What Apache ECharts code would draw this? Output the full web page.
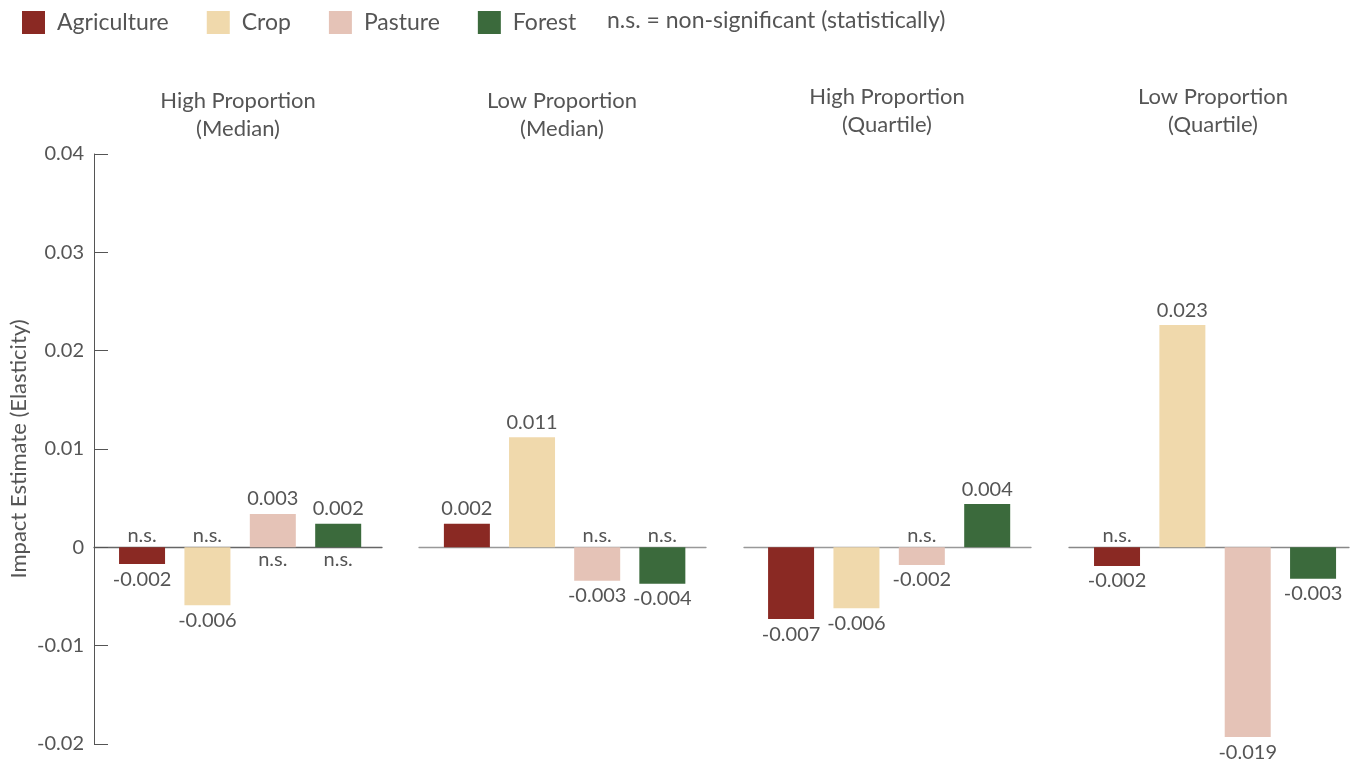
<!DOCTYPE html>
<html>
<head>
<meta charset="utf-8">
<script src="https://cdn.jsdelivr.net/npm/echarts@6/dist/echarts.min.js"></script>
<style>
html,body{margin:0;padding:0;background:#fff;}
#chart{width:1352px;height:764px;}
</style>
</head>
<body>
<div id="chart"></div>
<script>
// ---- data ----
const categories = ['Agriculture', 'Crop', 'Pasture', 'Forest'];
const panelTitles = ['High Proportion\n(Median)', 'Low Proportion\n(Median)', 'High Proportion\n(Quartile)', 'Low Proportion\n(Quartile)'];
const agriculture = [-0.0017, 0.0024, -0.0073, -0.0019];
const crop        = [-0.0059, 0.0112, -0.0062, 0.0226];
const pasture     = [0.0034, -0.0034, -0.0018, -0.0193];
const forest      = [0.0024, -0.0037, 0.0044, -0.0032];
const agricultureSig = [false, true, true, false];
const cropSig        = [false, true, true, true];
const pastureSig     = [false, false, false, true];
const forestSig      = [false, false, true, true];
const yTicks = [-0.02, -0.01, 0, 0.01, 0.02, 0.03, 0.04];
const nsNote = 'n.s. = non-significant (statistically)';

// ---- styling / layout ----
const FONT = 'Lato';
const TXT = '#555';
const colors = ['#8a2923', '#f0d9ac', '#e5c3b7', '#3b6a3c'];
const valuesByCat = [agriculture, crop, pasture, forest];
const sigByCat = [agricultureSig, cropSig, pastureSig, forestSig];
const panels = [
  { left: 94,   width: 288, min: -0.735, max: 3.67, titleX: 238,  titleTop: 87, line: '#666' },
  { left: 419,  width: 287, min: -0.735, max: 3.67, titleX: 562,  titleTop: 87, line: '#999' },
  { left: 744,  width: 287, min: -0.72,  max: 3.67, titleX: 887,  titleTop: 83, line: '#999' },
  { left: 1069, width: 280, min: -0.735, max: 3.55, titleX: 1213, titleTop: 83, line: '#888' }
];

const grid = [], xAxis = [], yAxis = [], series = [], title = [];
panels.forEach((p, g) => {
  grid.push({ left: p.left, width: p.width, top: 154, bottom: 20, containLabel: false });
  title.push({
    text: panelTitles[g], left: p.titleX, top: p.titleTop, textAlign: 'center', padding: 0,
    textStyle: { fontFamily: FONT, fontSize: 22, fontWeight: 'normal', color: TXT, lineHeight: 28, align: 'center' }
  });
  xAxis.push({
    type: 'value', gridIndex: g, min: p.min, max: p.max,
    axisLine: { show: true, onZero: true, lineStyle: { color: p.line, width: 1.3 } },
    axisTick: { show: false }, axisLabel: { show: false }, splitLine: { show: false }
  });
  yAxis.push({
    type: 'value', gridIndex: g, min: yTicks[0], max: yTicks[yTicks.length - 1], interval: 0.01,
    show: g === 0,
    name: g === 0 ? 'Impact Estimate (Elasticity)' : '',
    nameLocation: 'middle', nameGap: 64,
    nameTextStyle: { fontFamily: FONT, fontSize: 22, color: TXT },
    axisLine: { show: true, onZero: false, lineStyle: { color: '#555', width: 1 } },
    axisTick: { show: true, inside: true, length: 14, lineStyle: { color: '#555' } },
    axisLabel: { fontFamily: FONT, fontSize: 20, color: TXT, margin: 10,
      formatter: v => String(Math.round(v * 100) / 100) },
    splitLine: { show: false }
  });
  categories.forEach((cat, c) => {
    const v = valuesByCat[c][g];
    series.push({
      type: 'bar', name: cat, xAxisIndex: g, yAxisIndex: g,
      barWidth: 46, barGap: '-100%', z: 2,
      itemStyle: { color: colors[c] },
      label: {
        show: true, position: v >= 0 ? 'top' : 'bottom', distance: 5,
        fontFamily: FONT, fontSize: 20, color: TXT,
        formatter: pr => pr.value[1].toFixed(3)
      },
      data: [[c, v]]
    });
  });
  // "n.s." markers on the baseline side of non-significant bars
  const nsData = [];
  categories.forEach((cat, c) => {
    if (!sigByCat[c][g]) {
      const v = valuesByCat[c][g];
      nsData.push({ value: [c, v], label: { position: v >= 0 ? 'bottom' : 'top' } });
    }
  });
  series.push({
    type: 'bar', name: 'ns' + g, xAxisIndex: g, yAxisIndex: g,
    barWidth: 46, barGap: '-100%', z: 1, silent: true,
    itemStyle: { color: 'rgba(0,0,0,0)' },
    label: { show: true, distance: 2, fontFamily: FONT, fontSize: 20, color: TXT, formatter: 'n.s.' },
    data: nsData
  });
});

const chart = echarts.init(document.getElementById('chart'), null, { renderer: 'canvas' });
chart.setOption({
  backgroundColor: '#fff',
  animation: false,
  title: title,
  legend: {
    data: categories, left: 22, top: 11, padding: 0, itemWidth: 23, itemHeight: 23, itemGap: 38,
    icon: 'rect',
    textStyle: { fontFamily: FONT, fontSize: 23, color: TXT, padding: [0, 0, 0, 7] }
  },
  graphic: [{
    type: 'text', left: 607, top: 9,
    style: { text: nsNote, font: '23px ' + FONT, fill: TXT }
  }],
  grid: grid, xAxis: xAxis, yAxis: yAxis, series: series
});
</script>
</body>
</html>
